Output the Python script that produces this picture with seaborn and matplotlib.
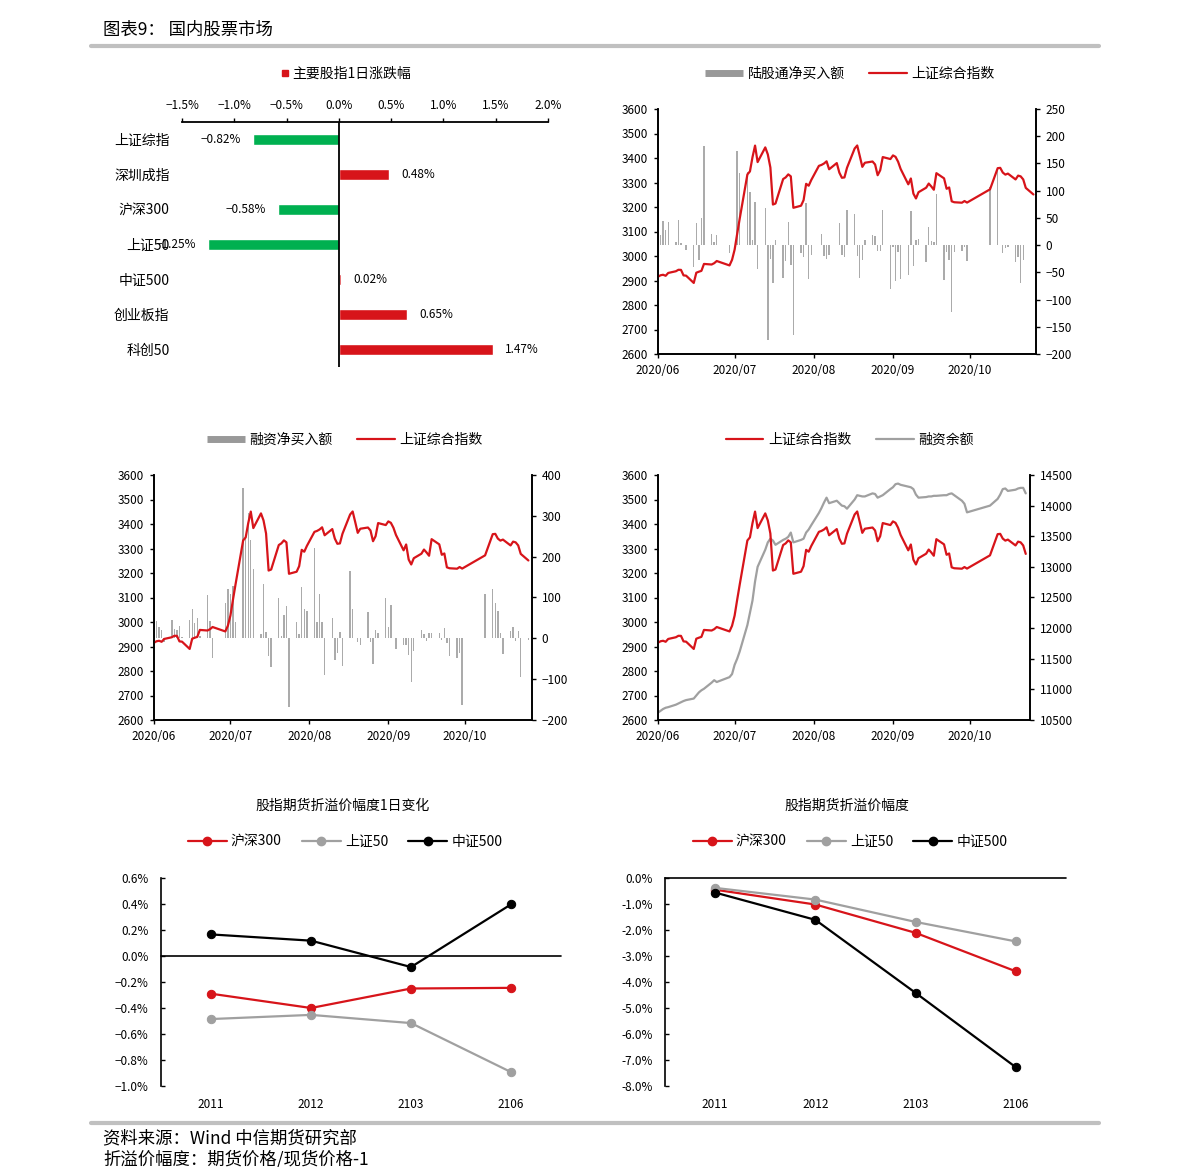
import numpy as np
import pandas as pd
import matplotlib.pyplot as plt
import matplotlib.dates as mdates
from matplotlib.lines import Line2D
import seaborn as sns

# ---- data ----
# 主要股指1日涨跌幅 (%)
index_names = ['上证综指', '深圳成指', '沪深300', '上证50', '中证500', '创业板指', '科创50']
day_chg = [-0.82, 0.48, -0.58, -1.25, 0.02, 0.65, 1.47]

# trading days 2020/06 - 2020/10
jun_days = [1, 2, 3, 4, 5, 8, 9, 10, 11, 12, 15, 16, 17, 18, 19, 22, 23, 24, 29, 30]
jul_days = [1, 2, 3, 6, 7, 8, 9, 10, 13, 14, 15, 16, 17, 20, 21, 22, 23, 24, 27, 28, 29, 30, 31]
aug_days = [3, 4, 5, 6, 7, 10, 11, 12, 13, 14, 17, 18, 19, 20, 21, 24, 25, 26, 27, 28, 31]
sep_days = [1, 2, 3, 4, 7, 8, 9, 10, 11, 14, 15, 16, 17, 18, 21, 22, 23, 24, 25, 28, 29, 30]
oct_days = [9, 12, 13, 14, 15, 16, 19, 20, 21, 22, 23, 26]

# 上证综合指数
sse_jun = [2915.43, 2921.40, 2923.37, 2919.25, 2930.80, 2937.77, 2943.75, 2943.32, 2920.90, 2919.74,
           2890.03, 2931.75, 2935.87, 2939.32, 2967.63, 2965.27, 2970.62, 2979.55, 2961.52, 2984.67]
sse_jul = [3025.98, 3090.57, 3152.81, 3332.88, 3345.34, 3403.44, 3450.59, 3383.32, 3443.29, 3414.62,
           3361.30, 3210.10, 3214.13, 3314.15, 3320.90, 3333.16, 3325.11, 3196.77, 3205.23, 3227.96,
           3294.55, 3286.82, 3310.01]
sse_aug = [3367.97, 3371.69, 3377.56, 3386.46, 3354.04, 3379.25, 3340.29, 3319.27, 3320.73, 3360.10,
           3438.80, 3451.09, 3408.13, 3363.90, 3380.68, 3385.64, 3373.58, 3329.74, 3350.11, 3403.81,
           3395.68]
sse_sep = [3410.61, 3404.80, 3384.98, 3355.37, 3292.59, 3316.42, 3254.63, 3234.82, 3260.35, 3278.81,
           3295.68, 3283.92, 3270.44, 3338.09, 3316.94, 3274.30, 3279.71, 3223.18, 3219.42, 3217.53,
           3224.36, 3218.05]
sse_oct = [3272.08, 3358.47, 3359.75, 3340.56, 3332.18, 3336.36, 3312.50, 3328.10, 3325.03, 3312.50,
           3278.00, 3251.12]

# 陆股通净买入额 (亿元)
north_jun = [104, 18, 44, 28, 43, 6, 46, 3, 1, -9, -41, 40, -28, 49, 182, 21, 6, 18, -14, 0]
north_jul = [0, 172, 132, 135, 98, 10, 80, -44, 68, -174, -26, -69, 10, -60, -29, 42, -36, -165,
             -14, -21, 77, -63, -18]
north_aug = [1, 21, -20, -25, -18, 0, 40, -18, -21, 64, 57, -20, -61, -28, 10, 18, 17, -11, -11, 64, -80]
north_sep = [-3, -66, -12, -63, -54, 63, -38, 9, 12, -31, 33, 7, 5, 94, -64, -12, -28, -122, -12,
             -11, -3, -29]
north_oct = [106, 141, 0, -15, -5, -3, -31, -21, -69, -28, np.nan, np.nan]

# 融资净买入额 (亿元)
mbuy_jun = [101, 42, 28, 20, -9, 46, 24, 20, 30, 3, 45, 72, 37, 50, 5, 107, 42, -49, 87, 122]
mbuy_jul = [109, 129, 40, 367, 245, 308, 241, 170, 10, 132, 15, -43, -69, 98, 6, 56, 79, -167, 40,
            10, 125, 71, 67]
mbuy_aug = [221, 40, 109, 40, -89, 49, -53, -35, 16, -67, 164, 73, 2, -9, -16, 64, -9, -62, 20, 14, 99]
mbuy_sep = [28, 81, 0, -27, -16, -16, -41, -108, -31, 20, 10, -7, 14, 12, 12, -4, 26, -12, -43,
            -49, -35, -163]
mbuy_oct = [109, 120, 87, 68, 12, -39, 18, 28, -7, 18, -94, -4]

# 融资余额 (亿元)
mbal_jun = [10620, 10650, 10680, 10700, 10710, 10750, 10770, 10790, 10810, 10825, 10850, 10900,
            10950, 10985, 11010, 11110, 11150, 11120, 11200, 11250]
mbal_jul = [11400, 11500, 11620, 12050, 12250, 12450, 12760, 13000, 13280, 13400, 13460, 13430,
            13360, 13440, 13460, 13490, 13560, 13400, 13440, 13460, 13560, 13610, 13680]
mbal_aug = [13880, 13960, 14050, 14130, 14040, 14080, 14040, 14000, 13990, 13950, 14100, 14170,
            14160, 14150, 14150, 14200, 14190, 14130, 14150, 14170, 14270]
mbal_sep = [14300, 14350, 14360, 14340, 14310, 14300, 14270, 14180, 14130, 14140, 14150, 14150,
            14160, 14160, 14170, 14170, 14190, 14200, 14170, 14080, 14030, 13890]
mbal_oct = [14000, 14110, 14180, 14270, 14280, 14240, 14260, 14280, 14290, 14290, 14200, np.nan]

# 股指期货折溢价
contracts = ['2011', '2012', '2103', '2106']
series_names = ['沪深300', '上证50', '中证500']
chg_hs300 = [-0.29, -0.40, -0.25, -0.245]
chg_sz50 = [-0.485, -0.453, -0.516, -0.893]
chg_zz500 = [0.166, 0.118, -0.085, 0.397]
basis_hs300 = [-0.45, -1.02, -2.11, -3.59]
basis_sz50 = [-0.38, -0.83, -1.69, -2.44]
basis_zz500 = [-0.56, -1.61, -4.42, -7.28]

dates = []
for m, days in [(6, jun_days), (7, jul_days), (8, aug_days), (9, sep_days), (10, oct_days)]:
    dates += [pd.Timestamp(2020, m, d) for d in days]
df = pd.DataFrame({
    'date': dates,
    'sse': sse_jun + sse_jul + sse_aug + sse_sep + sse_oct,
    'north': north_jun + north_jul + north_aug + north_sep + north_oct,
    'mbuy': mbuy_jun + mbuy_jul + mbuy_aug + mbuy_sep + mbuy_oct,
    'mbal': mbal_jun + mbal_jul + mbal_aug + mbal_sep + mbal_oct,
})

# ---- style ----
sns.set_style('ticks')
plt.rcParams['font.family'] = ['Noto Sans CJK SC', 'DejaVu Sans']
plt.rcParams['axes.edgecolor'] = 'black'
plt.rcParams['xtick.color'] = 'black'
plt.rcParams['ytick.color'] = 'black'
plt.rcParams['text.color'] = 'black'

RED = '#D7141A'
GREEN = '#00B050'
GRAY = '#A0A0A0'
BARGRAY = '#ABABAB'
RULE = '#C0C0C0'

W, H = 1191, 1167
fig = plt.figure(figsize=(W / 100, H / 100), dpi=100)


def box(x0, y0, x1, y1):
    return [x0 / W, 1 - y1 / H, (x1 - x0) / W, (y1 - y0) / H]


def fy(y):
    return 1 - y / H


def pct(v, nd):
    s = f"{abs(v):.{nd}f}%"
    return '−' + s if round(v, 6) < 0 else s


# header / footer
fig.text(103 / W, fy(30), '图表9： 国内股票市场', fontsize=12.5, va='center', ha='left')
fig.add_artist(Line2D([91 / W, 1099 / W], [fy(46), fy(46)], color=RULE, lw=3))
fig.add_artist(Line2D([91 / W, 1099 / W], [fy(1123), fy(1123)], color=RULE, lw=3))
fig.text(103 / W, fy(1138), '资料来源：Wind 中信期货研究部', fontsize=12.5, va='center')
fig.text(103 / W, fy(1159), '折溢价幅度：期货价格/现货价格-1', fontsize=12.5, va='center')

# ---- panel 1: 主要股指1日涨跌幅 ----
ax1 = fig.add_axes(box(182, 122, 548, 367))
colors = {n: (RED if v > 0 else GREEN) for n, v in zip(index_names, day_chg)}
sns.barplot(x=day_chg, y=index_names, hue=index_names, palette=colors, legend=False,
            width=0.31, orient='y', saturation=1, ax=ax1)
ax1.set_xlim(-1.5, 2.0)
xt = np.arange(-1.5, 2.01, 0.5)
ax1.set_xticks(xt)
ax1.set_xticklabels([pct(v, 1) for v in xt])
ax1.xaxis.tick_top()
ax1.set_xlabel('')
ax1.set_ylabel('')
for s in ['left', 'right', 'bottom']:
    ax1.spines[s].set_visible(False)
ax1.spines['top'].set_linewidth(1.3)
ax1.axvline(0, color='black', lw=1.3)
ax1.tick_params(axis='x', top=True, bottom=False, length=3, width=1, pad=4, labelsize=8.5)
ax1.tick_params(axis='y', length=0, pad=9, labelsize=10)
for i, v in enumerate(day_chg):
    ax1.annotate(pct(v, 2), (v, i), xytext=(9 if v > 0 else -9, 0), textcoords='offset points',
                 ha='left' if v > 0 else 'right', va='center', fontsize=8.5)
fig.legend(handles=[Line2D([], [], marker='s', ls='', color=RED, markersize=5)],
           labels=['主要股指1日涨跌幅'], loc='center', bbox_to_anchor=(345 / W, fy(74)),
           frameon=False, fontsize=10, handletextpad=0.1, handlelength=0.8)


def date_panel(rect, end):
    ax = fig.add_axes(box(*rect))
    ax2 = ax.twinx()
    ax.set_zorder(ax2.get_zorder() + 1)
    ax.patch.set_visible(False)
    ax.set_xlim(pd.Timestamp('2020-06-01'), pd.Timestamp(end))
    ax.set_ylim(2600, 3600)
    ax.set_yticks(np.arange(2600, 3601, 100))
    ax.xaxis.set_major_locator(mdates.MonthLocator())
    ax.xaxis.set_major_formatter(mdates.DateFormatter('%Y/%m'))
    for a in (ax, ax2):
        a.spines['top'].set_visible(False)
        for s in a.spines.values():
            s.set_linewidth(1.2)
    ax.tick_params(axis='both', length=3, width=1, pad=4, labelsize=8.5)
    ax2.tick_params(axis='y', length=3, width=1, pad=4, labelsize=8.5)
    return ax, ax2


def finish(ax, ax2):
    ax.set_xlabel('')
    ax.set_ylabel('')
    ax2.set_xlabel('')
    ax2.set_ylabel('')


def bar_handle():
    return Line2D([], [], color='#999999', lw=5, solid_capstyle='butt')


# ---- panel 2: 陆股通 ----
ax, ax2 = date_panel((658, 109, 1036, 354), '2020-10-27')
ax2.bar(df['date'], df['north'], width=0.55, color=BARGRAY, lw=0)
ax2.set_ylim(-200, 250)
ax2.set_yticks(np.arange(-200, 251, 50))
sns.lineplot(data=df, x='date', y='sse', color=RED, lw=1.6, ax=ax)
ax.set_xlim(pd.Timestamp('2020-06-01'), pd.Timestamp('2020-10-27'))
finish(ax, ax2)
fig.legend(handles=[bar_handle(), Line2D([], [], color=RED, lw=1.6)],
           labels=['陆股通净买入额', '上证综合指数'], loc='center', bbox_to_anchor=(850 / W, fy(74)),
           ncol=2, frameon=False, fontsize=10, handlelength=2.7, handletextpad=0.36, columnspacing=1.75)

# ---- panel 3: 融资净买入额 ----
ax, ax2 = date_panel((154, 475, 532, 720), '2020-10-27 10:00')
ax2.bar(df['date'], df['mbuy'], width=0.55, color=BARGRAY, lw=0)
ax2.set_ylim(-200, 400)
ax2.set_yticks(np.arange(-200, 401, 100))
sns.lineplot(data=df, x='date', y='sse', color=RED, lw=1.6, ax=ax)
ax.set_xlim(pd.Timestamp('2020-06-01'), pd.Timestamp('2020-10-27 10:00'))
finish(ax, ax2)
fig.legend(handles=[bar_handle(), Line2D([], [], color=RED, lw=1.6)],
           labels=['融资净买入额', '上证综合指数'], loc='center', bbox_to_anchor=(345 / W, fy(440)),
           ncol=2, frameon=False, fontsize=10, handlelength=2.7, handletextpad=0.36, columnspacing=1.75)

# ---- panel 4: 融资余额 ----
ax, ax2 = date_panel((658, 475, 1030, 720), '2020-10-24 16:00')
d4 = df[df['mbal'].notna()]
sns.lineplot(data=d4, x='date', y='mbal', color=GRAY, lw=1.6, ax=ax2)
ax2.set_ylim(10500, 14500)
ax2.set_yticks(np.arange(10500, 14501, 500))
sns.lineplot(data=d4, x='date', y='sse', color=RED, lw=1.6, ax=ax)
ax.set_xlim(pd.Timestamp('2020-06-01'), pd.Timestamp('2020-10-24 16:00'))
finish(ax, ax2)
fig.legend(handles=[Line2D([], [], color=RED, lw=1.6), Line2D([], [], color=GRAY, lw=1.6)],
           labels=['上证综合指数', '融资余额'], loc='center', bbox_to_anchor=(850 / W, fy(440)),
           ncol=2, frameon=False, fontsize=10, handlelength=2.7, handletextpad=0.36, columnspacing=1.75)


# ---- panels 5 & 6: 股指期货折溢价 ----
def basis_panel(rect, series, ylim, step, nd, title, title_x, legend_x, minus):
    ax = fig.add_axes(box(*rect))
    xs = np.arange(len(contracts))
    for vals, c in zip(series, [RED, GRAY, 'black']):
        sns.lineplot(x=xs, y=vals, color=c, lw=1.6, marker='o', markersize=6,
                     markeredgecolor=c, ax=ax)
    ax.set_xlim(-0.5, len(contracts) - 0.5)
    ax.set_ylim(*ylim)
    yt = np.arange(ylim[0], ylim[1] + step / 2, step)
    ax.set_yticks(yt)
    ax.set_yticklabels([pct(v, nd).replace('−', minus) for v in yt])
    ax.set_xticks(xs)
    ax.set_xticklabels(contracts)
    ax.axhline(0, color='black', lw=1.2, clip_on=False)
    for s in ['top', 'right', 'bottom']:
        ax.spines[s].set_visible(False)
    ax.spines['left'].set_linewidth(1.2)
    ax.tick_params(axis='y', direction='in', length=3, width=1, pad=9, labelsize=8.5)
    ax.tick_params(axis='x', length=0, pad=9, labelsize=8.5)
    fig.text(title_x / W, fy(806), title, fontsize=10, ha='center', va='center')
    handles = [Line2D([], [], color=c, lw=1.6, marker='o', markersize=6)
               for c in [RED, GRAY, 'black']]
    fig.legend(handles=handles, labels=series_names, loc='center',
               bbox_to_anchor=(legend_x / W, fy(842)), ncol=3, frameon=False, fontsize=10,
               handlelength=2.8, handletextpad=0.3, columnspacing=1.45)


basis_panel((161, 878, 561, 1086), [chg_hs300, chg_sz50, chg_zz500], (-1.0, 0.6), 0.2, 1,
            '股指期货折溢价幅度1日变化', 343, 345, '−')
basis_panel((665, 878, 1066, 1086), [basis_hs300, basis_sz50, basis_zz500], (-8.0, 0.0), 1.0, 1,
            '股指期货折溢价幅度', 847, 850, '-')

fig.savefig('out.png', dpi=100)
